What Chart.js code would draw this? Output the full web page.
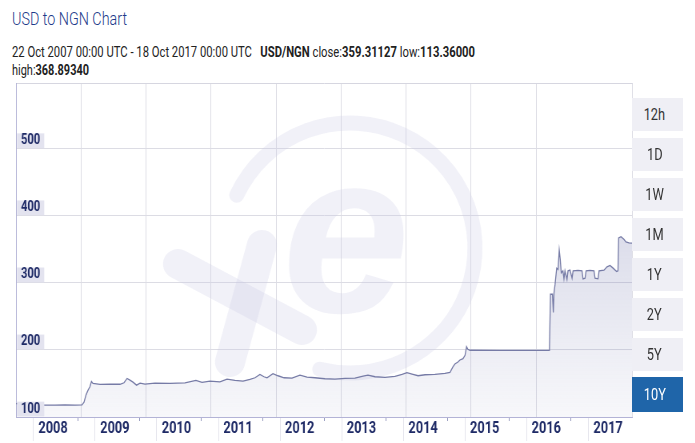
<!DOCTYPE html>
<html><head><meta charset="utf-8">
<script src="https://cdn.jsdelivr.net/npm/chart.js@4.4.1/dist/chart.umd.min.js"></script>
<style>
html,body{margin:0;padding:0;background:#fff;width:695px;height:443px;overflow:hidden;font-family:Roboto,'Liberation Sans',sans-serif;}
#wrap{position:relative;width:695px;height:443px;}
.fit{position:absolute;white-space:nowrap;transform-origin:0 0;}
#title{left:12px;top:9px;font-size:19px;line-height:19px;font-weight:300;color:#1d3a8a;}
#l2{left:12px;top:45px;font-size:15px;line-height:15px;color:#222;}
#l3{left:12px;top:63px;font-size:15px;line-height:15px;color:#222;}
#cw{position:absolute;left:0;top:0;width:800px;height:443px;transform:scaleX(0.8);transform-origin:0 0;}
#cv{display:block;}
.btn{position:absolute;left:632px;width:51px;height:33px;background:#efeff5;color:#333;font-size:16px;display:flex;align-items:center;justify-content:center;}
.btn span{display:inline-block;transform:scaleX(0.8);margin-right:6px;}
.btn.on{background:#1f65a9;color:#fff;}
</style></head>
<body><div id="wrap">
<div id="title" class="fit" data-w="115">USD to NGN Chart</div>
<div id="l2" class="fit" data-w="463">22 Oct 2007 00:00 UTC - 18 Oct 2017 00:00 UTC &nbsp;&nbsp;<b>USD/NGN</b> close:<b>359.31127</b> low:<b>113.36000</b></div>
<div id="l3" class="fit" data-w="77">high:<b>368.89340</b></div>
<div id="cw"><canvas id="cv" width="800" height="443" style="width:800px;height:443px"></canvas></div>
<div id="btns"></div>
</div>
<script>
// ---- data ----
const dates = ['2007-10-22','2007-11-27','2008-01-01','2008-02-12','2008-04-11','2008-06-09','2008-08-07','2008-10-06','2008-11-16','2008-11-28',
'2008-12-10','2008-12-22','2009-01-02','2009-01-11','2009-01-20','2009-03-03','2009-05-01','2009-06-29','2009-07-23','2009-08-10',
'2009-08-27','2009-09-14','2009-10-05','2009-10-26','2009-11-24','2010-01-22','2010-04-21','2010-07-19','2010-09-22','2010-10-28',
'2010-12-14','2011-02-11','2011-03-25','2011-05-11','2011-06-28','2011-08-08','2011-09-07','2011-10-06','2011-10-30','2011-11-17',
'2011-12-22','2012-01-21','2012-02-26','2012-04-13','2012-05-30','2012-07-11','2012-08-27','2012-10-25','2012-12-24','2013-02-21',
'2013-04-21','2013-06-08','2013-07-07','2013-08-18','2013-10-16','2013-12-14','2014-01-25','2014-02-23','2014-03-25','2014-04-30',
'2014-06-10','2014-08-08','2014-10-06','2014-11-05','2014-11-23','2014-12-04','2014-12-22','2015-01-03','2015-01-21','2015-02-02',
'2015-02-11','2015-02-19','2015-03-03','2015-08-28','2016-02-22','2016-06-16','2016-06-22','2016-07-04','2016-07-09','2016-07-13',
'2016-07-19','2016-07-29','2016-08-06','2016-08-13','2016-08-19','2016-08-25','2016-09-04','2016-09-10','2016-09-16','2016-09-28',
'2016-10-04','2016-10-16','2016-10-28','2016-11-03','2016-12-02','2016-12-26','2017-01-01','2017-01-13','2017-01-19','2017-02-11',
'2017-03-07','2017-03-13','2017-03-31','2017-04-06','2017-05-05','2017-05-23','2017-06-10','2017-06-28','2017-07-19','2017-07-27',
'2017-07-31','2017-08-14','2017-08-31','2017-09-12','2017-09-30','2017-10-18'];
const rates = [120,119.5,118.8,118.2,117.8,117.6,117.9,117.7,118.0,122,
133,140,145,153,150,148.5,149,148.8,151,157.5,
155,152,147.5,150.5,149,150.5,150.2,150.8,154.5,151.5,
153.5,152.5,156.5,154.5,153.5,156,158.5,163.5,160,158.5,
164.5,161.5,158.5,158,162.5,159.5,158.5,157,156.5,157.5,
158,161,162.5,160,159,160.5,163.5,166,164,161.5,
163,163.5,165,166.5,175,179,182,185,187,192,
205,201,199.5,199.3,199.3,199.5,283,283,256,285,
297,322,320,349,335,315,318,306,318,305,
318,319,307,318,318.5,318,306,307,318,318.5,
318,307,306,318,319,324,326,322,317,318,
367,368.9,365,361,359.5,359.3];
const rangeStart = '2007-10-22';
const rangeEnd = '2017-10-18';
const yTicks = [100,200,300,400,500];
const yearLabels = ['2008','2009','2010','2011','2012','2013','2014','2015','2016','2017'];
const anniversaryTicks = ['2008-10-22','2009-10-22','2010-10-22','2011-10-22','2012-10-22','2013-10-22','2014-10-22','2015-10-22','2016-10-22'];
const periods = ['12h','1D','1W','1M','1Y','2Y','5Y','10Y'];
const activePeriod = '10Y';

// ---- helpers ----
const toMs = s => Date.parse(s + 'T00:00:00Z');
const DAY = 86400000;
const xMin = toMs(rangeStart), xMax = toMs(rangeEnd);
const labelShift = 32 * DAY;
const SX = 0.8; // horizontal squeeze of the chart canvas (narrow lettering)

// header text fitting
document.querySelectorAll('.fit').forEach(el => {
  const w = el.getBoundingClientRect().width;
  el.style.transform = 'scaleX(' + (parseFloat(el.dataset.w) / w) + ')';
});

// buttons
const btnBox = document.getElementById('btns');
periods.forEach((p, i) => {
  const d = document.createElement('div');
  d.className = 'btn' + (p === activePeriod ? ' on' : '');
  d.style.top = (98 + 40 * i - (p === activePeriod ? 1 : 0)) + 'px';
  if (p === activePeriod) d.style.height = '35px';
  const s = document.createElement('span'); s.textContent = p; d.appendChild(s);
  btnBox.appendChild(d);
});

const FONT = "Roboto, 'Liberation Sans', sans-serif";

const watermark = {
  id: 'watermark',
  beforeDatasetsDraw(chart) {
    const {ctx, chartArea: a} = chart;
    ctx.save();
    ctx.beginPath(); ctx.rect(a.left, a.top, a.right - a.left, a.bottom - a.top); ctx.clip();
    ctx.scale(1 / SX, 1); // draw in displayed pixels
    ctx.strokeStyle = 'rgba(200,200,228,0.25)';
    ctx.fillStyle = 'rgba(200,200,228,0.25)';
    ctx.lineCap = 'round';
    ctx.lineWidth = 15;
    ctx.beginPath(); ctx.arc(350, 248, 125, -155 * Math.PI / 180, 104 * Math.PI / 180); ctx.stroke();
    ctx.lineWidth = 30;
    ctx.beginPath(); ctx.moveTo(178, 264); ctx.lineTo(302, 330); ctx.stroke();
    ctx.beginPath(); ctx.moveTo(262, 245); ctx.lineTo(230, 362); ctx.stroke();
    ctx.font = "italic bold 230px 'Liberation Sans', sans-serif";
    ctx.fillText('e', 282, 312);
    ctx.restore();
  }
};

const points = dates.map((d, i) => ({x: toMs(d), y: rates[i]}));

new Chart(document.getElementById('cv'), {
  type: 'line',
  data: {
    datasets: [{
      data: points,
      xAxisID: 'x', yAxisID: 'y',
      borderColor: '#767ba6',
      borderWidth: 1.3,
      pointRadius: 0,
      tension: 0,
      fill: 'start',
      backgroundColor: (ctx) => {
        const a = ctx.chart.chartArea;
        if (!a) return 'rgba(110,115,170,0.15)';
        const g = ctx.chart.ctx.createLinearGradient(0, a.top, 0, a.bottom);
        g.addColorStop(0, 'rgba(105,110,168,0.38)');
        g.addColorStop(1, 'rgba(105,110,168,0.05)');
        return g;
      }
    }]
  },
  options: {
    responsive: false,
    devicePixelRatio: 1,
    animation: false,
    layout: {padding: {left: 16 / SX, top: 83, right: 8 / SX, bottom: 0}},
    plugins: {legend: {display: false}, tooltip: {enabled: false}},
    scales: {
      xg: {
        type: 'linear', position: 'top', min: 0, max: 616 / 65,
        ticks: {display: false, stepSize: 1},
        grid: {color: '#dcdce4', drawTicks: false},
        border: {display: true, color: '#d6d6e0'},
        afterFit: s => { s.height = 0; }
      },
      x: {
        type: 'linear', position: 'bottom', weight: 0, min: xMin, max: xMax,
        afterBuildTicks: s => { s.ticks = anniversaryTicks.map(d => ({value: toMs(d)})); },
        afterFit: s => { s.height = 0; },
        ticks: {display: false},
        grid: {drawOnChartArea: false, drawTicks: true, tickLength: 4, color: '#9195bb'},
        border: {display: true, color: '#b3b3d6'}
      },
      xYear: {
        type: 'linear', position: 'bottom', weight: 1, min: xMin - labelShift, max: xMax - labelShift,
        afterBuildTicks: s => { s.ticks = yearLabels.map(y => ({value: toMs(y + '-01-01')})); },
        afterFit: s => { s.height = 26; },
        ticks: {
          callback: (v, i) => yearLabels[i],
          align: 'start', labelOffset: 5 / SX, padding: -22, autoSkip: false, maxRotation: 0,
          font: {family: FONT, size: 16, weight: 'bold'}, color: '#1e2a66'
        },
        grid: {drawOnChartArea: false, drawTicks: true, tickLength: 24, color: '#e4e4ec'},
        border: {display: false}
      },
      y: {
        type: 'linear', position: 'left', min: 100, max: 598,
        afterBuildTicks: s => { s.ticks = yTicks.map(v => ({value: v})); },
        afterFit: s => { s.width = 0; },
        ticks: {
          mirror: true, padding: 5 / SX, labelOffset: -8, z: 1,
          font: {family: FONT, size: 14, weight: 'bold', lineHeight: 1.05}, color: '#1e2a66',
          showLabelBackdrop: true, backdropColor: '#e3e3ef',
          backdropPadding: {top: 0, bottom: 0, left: 4 / SX, right: 4 / SX}
        },
        grid: {color: '#dcdce4', drawTicks: false},
        border: {display: true, color: '#b3b3d6'}
      }
    }
  },
  plugins: [watermark]
});
</script>
</body></html>
